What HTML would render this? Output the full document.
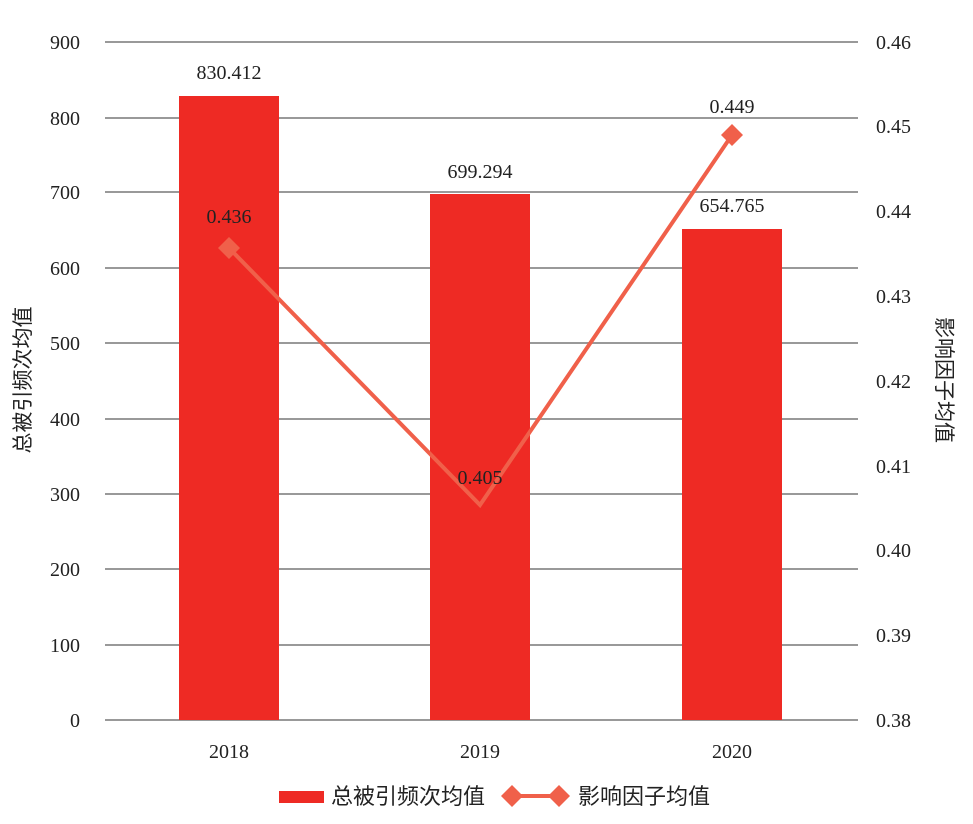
<!DOCTYPE html>
<html><head><meta charset="utf-8"><style>body{margin:0;background:#fff}</style></head><body>
<svg width="973" height="824" xmlns="http://www.w3.org/2000/svg" style="display:block">
<g stroke="#999" stroke-width="2">
<line x1="105" x2="858" y1="42" y2="42"/><line x1="105" x2="858" y1="118" y2="118"/>
<line x1="105" x2="858" y1="192" y2="192"/><line x1="105" x2="858" y1="268" y2="268"/>
<line x1="105" x2="858" y1="343" y2="343"/><line x1="105" x2="858" y1="419" y2="419"/>
<line x1="105" x2="858" y1="494" y2="494"/><line x1="105" x2="858" y1="569" y2="569"/>
<line x1="105" x2="858" y1="645" y2="645"/><line x1="105" x2="858" y1="720" y2="720"/>
</g>
<g fill="#ee2a24">
<rect x="179" y="96" width="100" height="624"/>
<rect x="430" y="194" width="100" height="526"/>
<rect x="682" y="229" width="100" height="491"/>
</g>
<polyline points="229,248 480,505 732,135" fill="none" stroke="#f0604a" stroke-width="4"/>
<g fill="#f0604a">
<path d="M229,237 L240,248 L229,259 L218,248Z"/>
<path d="M732,124 L743,135 L732,146 L721,135Z"/>
</g>
<g font-family="Liberation Serif, serif" font-size="20" fill="#222">
<g text-anchor="end">
<text x="80" y="49">900</text><text x="80" y="125">800</text><text x="80" y="199">700</text>
<text x="80" y="275">600</text><text x="80" y="350">500</text><text x="80" y="426">400</text>
<text x="80" y="501">300</text><text x="80" y="576">200</text><text x="80" y="652">100</text><text x="80" y="727">0</text>
</g>
<g>
<text x="876" y="49">0.46</text><text x="876" y="133">0.45</text><text x="876" y="218">0.44</text>
<text x="876" y="303">0.43</text><text x="876" y="388">0.42</text><text x="876" y="473">0.41</text>
<text x="876" y="557">0.40</text><text x="876" y="642">0.39</text><text x="876" y="727">0.38</text>
</g>
<g text-anchor="middle">
<text x="229" y="758">2018</text><text x="480" y="758">2019</text><text x="732" y="758">2020</text>
<text x="229" y="79">830.412</text><text x="480" y="178">699.294</text><text x="732" y="212">654.765</text>
<text x="229" y="223">0.436</text><text x="480" y="484">0.405</text><text x="732" y="113">0.449</text>
</g>
</g>
<g font-family="Liberation Sans, Noto Sans CJK SC, sans-serif" font-size="21" fill="#222" text-anchor="middle">
<text transform="translate(30,380) rotate(-90)">总被引频次均值</text>
<text transform="translate(937,380) rotate(90)">影响因子均值</text>
</g>
<rect x="279" y="791" width="45" height="12" fill="#ee2a24"/>
<line x1="512" x2="559" y1="796" y2="796" stroke="#f0604a" stroke-width="4"/>
<path d="M512,785 L523,796 L512,807 L501,796Z M559,785 L570,796 L559,807 L548,796Z" fill="#f0604a"/>
<g font-family="Liberation Sans, Noto Sans CJK SC, sans-serif" font-size="22" fill="#222">
<text x="331" y="804">总被引频次均值</text>
<text x="578" y="804">影响因子均值</text>
</g>
</svg>
</body></html>
